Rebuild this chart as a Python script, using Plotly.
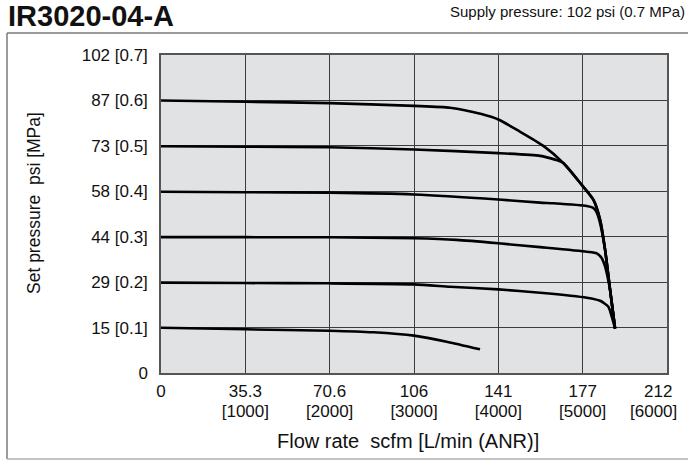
import plotly.graph_objects as go

# ---- data (flow in L/min (ANR), set pressure in MPa) ----
x_ticks = [0, 1000, 2000, 3000, 4000, 5000, 6000]
x_ticktext_scfm = ["0", "35.3", "70.6", "106", "141", "177", "212"]
x_ticktext_lmin = ["", "[1000]", "[2000]", "[3000]", "[4000]", "[5000]", "[6000]"]
y_ticks = [0, 0.1, 0.2, 0.3, 0.4, 0.5, 0.6, 0.7]
y_ticktext = ["0", "15 [0.1]", "29 [0.2]", "44 [0.3]", "58 [0.4]",
              "73 [0.5]", "87 [0.6]", "102 [0.7]"]

flow_06 = [0, 1000, 2000, 3000, 3427, 3800, 4000, 4250, 4534, 4772, 4989, 5128, 5207, 5266, 5325, 5384]
pres_06 = [0.600, 0.597, 0.594, 0.588, 0.584, 0.570, 0.558, 0.532, 0.500, 0.462, 0.414, 0.381, 0.337, 0.271, 0.183, 0.098]

flow_05 = [0, 1000, 2000, 3000, 4000, 4495, 4613, 4700, 4772, 4989, 5128, 5207, 5266, 5325, 5384]
pres_05 = [0.499, 0.498, 0.497, 0.492, 0.484, 0.478, 0.473, 0.468, 0.462, 0.414, 0.381, 0.337, 0.271, 0.183, 0.098]

flow_04 = [0, 1000, 2000, 3000, 4000, 4495, 4653, 5049, 5120, 5160, 5200, 5266, 5325, 5384]
pres_04 = [0.399, 0.398, 0.397, 0.393, 0.382, 0.375, 0.3735, 0.3676, 0.364, 0.356, 0.335, 0.271, 0.183, 0.098]

flow_03 = [0, 1000, 2000, 3000, 3507, 4000, 4495, 5049, 5167, 5227, 5266, 5295, 5325, 5384]
pres_03 = [0.299, 0.299, 0.2987, 0.2965, 0.293, 0.2855, 0.277, 0.267, 0.2635, 0.2525, 0.234, 0.212, 0.183, 0.098]

flow_02 = [0, 1000, 2000, 3000, 3427, 4000, 4495, 5049, 5207, 5305, 5345, 5384]
pres_02 = [0.199, 0.198, 0.1974, 0.195, 0.190, 0.184, 0.1768, 0.1658, 0.159, 0.146, 0.124, 0.098]

flow_01 = [0, 1000, 2000, 2518, 3000, 3388, 3783]
pres_01 = [0.0997, 0.0962, 0.0931, 0.0896, 0.0822, 0.0690, 0.0521]

series = [(flow_06, pres_06, "x"), (flow_05, pres_05, "x"), (flow_04, pres_04, "x"),
          (flow_03, pres_03, "x"), (flow_02, pres_02, "x"), (flow_01, pres_01, "x2")]

FONT = "Liberation Sans, Arial, Helvetica, sans-serif"
TICKSIZE = 17

fig = go.Figure()
for fx, fy, ax in series:
    fig.add_trace(go.Scatter(x=fx, y=fy, mode="lines", xaxis=ax, yaxis="y",
                             line=dict(color="black", width=2.6, shape="spline", smoothing=0.6),
                             showlegend=False, hoverinfo="skip"))

W, H = 688, 460
L, R, T, B = 161, 21, 55, 87
pw, ph = W - L - R, H - T - B

def px(xp):
    return (xp - L) / pw

def py(yp):
    return (H - B - yp) / ph

# the last x tick labels sit at the right edge; they are drawn as annotations
# anchored at the last tick (pulled left so they stay inside the page)
scfm_axis_text = x_ticktext_scfm[:-1] + [""]
lmin_axis_text = x_ticktext_lmin[:-1] + [""]

xcommon = dict(range=[0, 6000], tickvals=x_ticks, ticks="", zeroline=False,
               fixedrange=True, automargin=False, ticklabeloverflow="allow",
               tickfont=dict(size=TICKSIZE, family=FONT, color="#111"))

fig.update_layout(
    width=W, height=H, autosize=False,
    margin=dict(l=L, r=R, t=T, b=B, pad=0),
    paper_bgcolor="white", plot_bgcolor="#e1e2e4",
    font=dict(family=FONT, color="#111", size=17),
    xaxis=dict(**xcommon, ticktext=scfm_axis_text,
               showgrid=True, gridcolor="#3c3c3c", gridwidth=1.3,
               showline=True, linecolor="#555", linewidth=1.5, mirror=True,
               ticklabelstandoff=2),
    xaxis2=dict(**xcommon, ticktext=lmin_axis_text, overlaying="x", side="bottom",
                anchor="y", showgrid=False, showline=False, ticklabelstandoff=26),
    yaxis=dict(range=[0, 0.7], tickvals=y_ticks, ticktext=y_ticktext,
               showgrid=True, gridcolor="#3c3c3c", gridwidth=1.3,
               showline=True, linecolor="#555", linewidth=1.5, mirror=True,
               ticks="", tickfont=dict(size=17, family=FONT, color="#111"),
               ticklabelstandoff=8, ticklabeloverflow="allow", automargin=False,
               zeroline=False, fixedrange=True),
    annotations=[
        dict(text=x_ticktext_scfm[-1], xref="x", yref="paper", x=x_ticks[-1], y=py(391),
             xanchor="center", yanchor="middle", xshift=-9, showarrow=False,
             font=dict(family=FONT, size=TICKSIZE, color="#111")),
        dict(text=x_ticktext_lmin[-1], xref="x", yref="paper", x=x_ticks[-1], y=py(411),
             xanchor="center", yanchor="middle", xshift=-14, showarrow=False,
             font=dict(family=FONT, size=TICKSIZE, color="#111")),
        dict(text="<b>IR3020-04-A</b>", xref="paper", yref="paper",
             x=px(6), y=py(16), xanchor="left", yanchor="middle", showarrow=False,
             font=dict(family=FONT, size=29, color="#111")),
        dict(text="Supply pressure: 102 psi (0.7 MPa)", xref="paper", yref="paper",
             x=px(687), y=py(11), xanchor="right", yanchor="middle", showarrow=False,
             font=dict(family=FONT, size=15, color="#111")),
        dict(text="Flow rate  scfm [L/min (ANR)]", xref="paper", yref="paper",
             x=px(408), y=py(441), xanchor="center", yanchor="middle", showarrow=False,
             font=dict(family=FONT, size=20, color="#111")),
        dict(text="Set pressure  psi [MPa]", xref="paper", yref="paper",
             x=px(34), y=py(203), xanchor="center", yanchor="middle", showarrow=False,
             textangle=-90, font=dict(family=FONT, size=17.5, color="#111")),
    ],
    shapes=[
        dict(type="line", xref="paper", yref="paper", x0=px(7), x1=px(688),
             y0=py(33), y1=py(33), line=dict(color="#7a7a7a", width=1.5)),
        dict(type="line", xref="paper", yref="paper", x0=px(7), x1=px(7),
             y0=py(33), y1=py(459), line=dict(color="#7a7a7a", width=1.5)),
        dict(type="line", xref="paper", yref="paper", x0=px(7), x1=px(688),
             y0=py(459), y1=py(459), line=dict(color="#b0b0b0", width=1.5)),
    ],
)

fig.write_html("out.html", config={"displayModeBar": False},
               post_script="document.body.style.margin='0';document.body.style.padding='0';")
